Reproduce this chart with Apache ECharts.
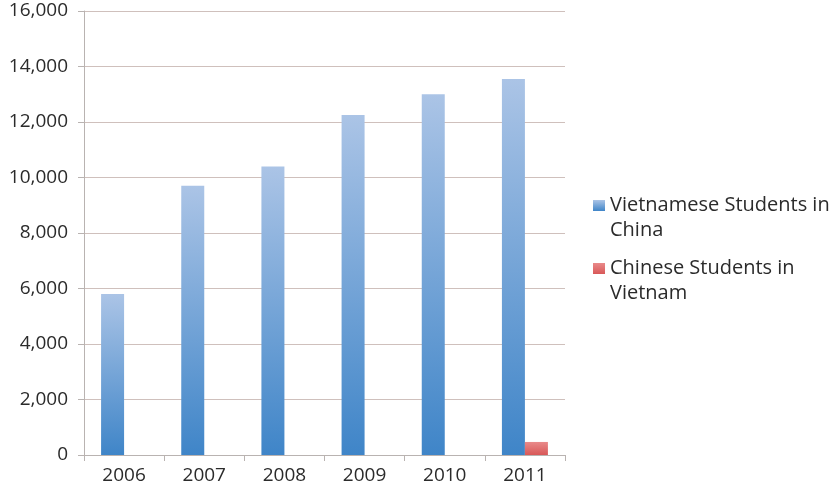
<!DOCTYPE html>
<html>
<head>
<meta charset="utf-8">
<script src="https://cdn.jsdelivr.net/npm/echarts@6/dist/echarts.min.js"></script>
<style>
  html, body { margin: 0; padding: 0; background: #fff; }
  #chart { width: 836px; height: 488px; }
</style>
</head>
<body>
<div id="chart"></div>
<script>
// Student exchange between Vietnam and China, 2006-2011
var years = ['2006', '2007', '2008', '2009', '2010', '2011'];
var vietnameseInChina = [5800, 9700, 10400, 12250, 13000, 13550];
var chineseInVietnam = [0, 0, 0, 0, 0, 470];
var seriesNames = ['Vietnamese Students in\nChina', 'Chinese Students in\nVietnam'];

var fontFamily = '"Open Sans", sans-serif';
var textColor = '#2b2b2b';

function vGrad(top, bottom) {
  return new echarts.graphic.LinearGradient(0, 0, 0, 1, [
    { offset: 0, color: top },
    { offset: 1, color: bottom }
  ]);
}

// leading blank line keeps the icon level with the first text line
var legendText = {
  fontFamily: fontFamily,
  fontSize: 20,
  color: textColor,
  lineHeight: 25
};
function legendFormatter(name) { return '\n' + name; }

var chart = echarts.init(document.getElementById('chart'), null, { renderer: 'canvas' });
chart.setOption({
  animation: false,
  backgroundColor: '#fff',
  grid: { left: 84, right: 271, top: 11, bottom: 33, containLabel: false },
  legend: [
    {
      data: [seriesNames[0]], left: 593, top: 168, padding: 0,
      itemWidth: 12, itemHeight: 11, itemGap: 0, icon: 'rect',
      formatter: legendFormatter, textStyle: legendText
    },
    {
      data: [seriesNames[1]], left: 593, top: 231, padding: 0,
      itemWidth: 12, itemHeight: 11, itemGap: 0, icon: 'rect',
      formatter: legendFormatter, textStyle: legendText
    }
  ],
  xAxis: {
    type: 'category',
    data: years,
    axisLine: { show: true, lineStyle: { color: '#b9b3b1', width: 1 } },
    axisTick: { show: true, alignWithLabel: false, length: 6, lineStyle: { color: '#b9b3b1' } },
    axisLabel: { fontFamily: fontFamily, fontSize: 19, color: textColor, margin: 11 },
    splitLine: { show: false }
  },
  yAxis: {
    type: 'value',
    min: 0, max: 16000, interval: 2000,
    axisLine: { show: true, lineStyle: { color: '#b9b3b1', width: 1 } },
    axisTick: { show: true, length: 6, lineStyle: { color: '#b9b3b1' } },
    axisLabel: {
      fontFamily: fontFamily, fontSize: 19, color: textColor, margin: 16,
      formatter: function (v) { return v.toLocaleString('en-US'); }
    },
    splitLine: { show: true, lineStyle: { color: '#cfc0bc', width: 1 } }
  },
  series: [
    {
      name: seriesNames[0],
      type: 'bar',
      data: vietnameseInChina,
      barWidth: 23,
      barGap: '0%',
      itemStyle: { color: vGrad('#abc4e6', '#3f85c8') }
    },
    {
      name: seriesNames[1],
      type: 'bar',
      data: chineseInVietnam,
      barWidth: 23,
      barGap: '0%',
      itemStyle: { color: vGrad('#e98a8a', '#d85858') }
    }
  ]
});
</script>
</body>
</html>
